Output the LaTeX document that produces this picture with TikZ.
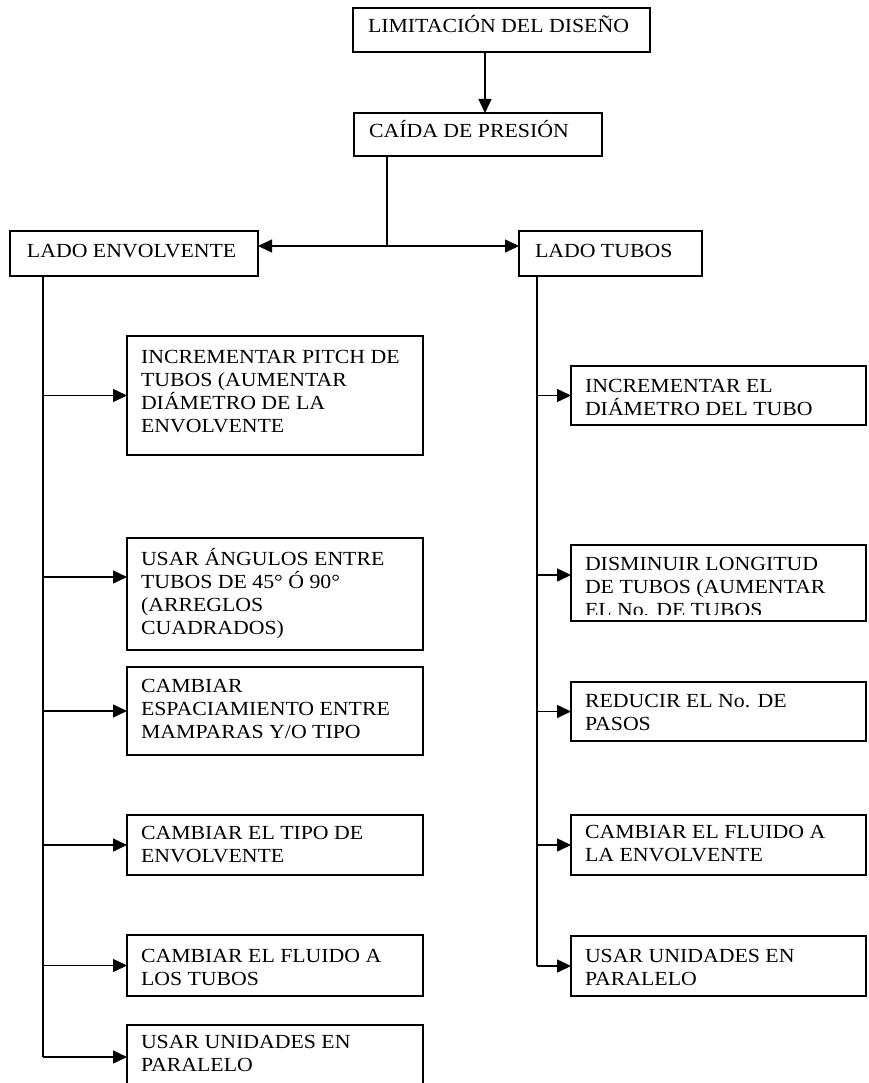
\documentclass[tikz,border=0pt]{standalone}
\usepackage{fontspec}
\setmainfont{Liberation Serif}[FakeStretch=1.09]
\usetikzlibrary{arrows.meta,calc}
\newcommand{\fst}{\vrule height 19pt depth 0pt width 0pt}
\begin{document}
\begin{tikzpicture}[x=1pt,y=-1pt,
  box/.style={draw, line width=1.6pt, rectangle, inner sep=0pt, outer sep=0pt, anchor=north west},
  txt/.style={anchor=north west, inner sep=0pt, outer sep=0pt, align=left,
     font=\fontsize{20}{23.3}\selectfont},
  con/.style={line width=1.5pt},
  arr/.style={con, -{Triangle[length=14pt,width=13pt]}}]
\useasboundingbox (0,0) rectangle (868,1083);
\clip (0,0) rectangle (868,1083);
\fill[white] (0,0) rectangle (868,1083);

% boxes
\node[box, minimum width=297pt, minimum height=44pt] (lim) at (353,8) {};
\node[box, minimum width=248pt, minimum height=43pt] (cai) at (354,113) {};
\node[box, minimum width=248pt, minimum height=45pt] (env) at (10,231) {};
\node[box, minimum width=183pt, minimum height=45pt] (tub) at (519,231) {};

\node[box, minimum width=296pt, minimum height=119pt] (L1) at (127,336) {};
\node[box, minimum width=296pt, minimum height=112pt] (L2) at (127,538) {};
\node[box, minimum width=296pt, minimum height=88pt] (L3) at (127,667) {};
\node[box, minimum width=296pt, minimum height=60pt] (L4) at (127,815) {};
\node[box, minimum width=296pt, minimum height=61pt] (L5) at (127,935) {};
\node[box, minimum width=296pt, minimum height=64pt] (L6) at (127,1025) {};

\node[box, minimum width=295pt, minimum height=59pt] (R1) at (571,366) {};
\node[box, minimum width=295pt, minimum height=76pt] (R2) at (571,545) {};
\node[box, minimum width=295pt, minimum height=59pt] (R3) at (571,682) {};
\node[box, minimum width=295pt, minimum height=60pt] (R4) at (571,815) {};
\node[box, minimum width=295pt, minimum height=60pt] (R5) at (571,936) {};

% texts
\node[txt] (tlim) at (368,14) {\fst LIMITACIÓN DEL DISEÑO};
\node[txt] (tcai) at (369,119) {\fst CAÍDA DE PRESIÓN};
\node[txt] (tenv) at (27,238) {\fst LADO ENVOLVENTE};
\node[txt] (ttub) at (535,238) {\fst LADO TUBOS};

\node[txt] (tL1) at (141,344) {\fst INCREMENTAR PITCH DE\\TUBOS (AUMENTAR\\DIÁMETRO DE LA\\ENVOLVENTE};
\node[txt] (tL2) at (141,546) {\fst USAR ÁNGULOS ENTRE\\TUBOS DE 45° Ó 90°\\(ARREGLOS\\CUADRADOS)};
\node[txt] (tL3) at (141,673) {\fst CAMBIAR\\ESPACIAMIENTO ENTRE\\MAMPARAS Y/O TIPO};
\node[txt] (tL4) at (141,820) {\fst CAMBIAR EL TIPO DE\\ENVOLVENTE};
\node[txt] (tL5) at (141,943) {\fst CAMBIAR EL FLUIDO A\\LOS TUBOS};
\node[txt] (tL6) at (141,1029) {\fst USAR UNIDADES EN\\PARALELO};

\node[txt] (tR1) at (585,373) {\fst INCREMENTAR EL\\DIÁMETRO DEL TUBO};
\begin{scope}
\clip (571,545) rectangle (866,614);
\node[txt] (tR2) at (585,551) {\fst DISMINUIR LONGITUD\\DE TUBOS (AUMENTAR\\EL No. DE TUBOS};
\end{scope}
\node[txt] (tR3) at (585,688) {\fst REDUCIR EL No. DE\\PASOS};
\node[txt] (tR4) at (585,819) {\fst CAMBIAR EL FLUIDO A\\LA ENVOLVENTE};
\node[txt] (tR5) at (585,943) {\fst USAR UNIDADES EN\\PARALELO};

% connectors
\draw[arr] ([xshift=132pt]lim.south west) -- ([xshift=131pt]cai.north west);
\coordinate (cb) at ([xshift=33pt]cai.south west);
\coordinate (jn) at ($(cb)+(0,90)$);
\draw[con] (cb) -- (jn);
\draw[arr] (jn) -- (env.east |- jn);
\draw[arr] (jn) -- (tub.west |- jn);

\coordinate (lt) at ([xshift=33pt]env.south west);
\coordinate (lb) at ($(lt)+(0,781)$);
\draw[con] (lt) -- (lb);
\draw[arr] (lb) -- (L6.west |- lb);
\draw[arr] (lt |- L1.west) -- (L1.west);
\draw[arr] ($(lt |- L2.north)+(0,39)$) -- ($(L2.north west)+(0,39)$);
\draw[arr] (lt |- L3.west) -- (L3.west);
\draw[arr] (lt |- L4.west) -- (L4.west);
\draw[arr] (lt |- L5.west) -- (L5.west);

\coordinate (rt) at ([xshift=18pt]tub.south west);
\coordinate (rb) at ($(rt)+(0,690)$);
\draw[con] (rt) -- (rb);
\draw[arr] (rb) -- (R5.west |- rb);
\draw[arr] (rt |- R1.west) -- (R1.west);
\draw[arr] ($(rt |- R2.north)+(0,30)$) -- ($(R2.north west)+(0,30)$);
\draw[arr] (rt |- R3.west) -- (R3.west);
\draw[arr] (rt |- R4.west) -- (R4.west);
\end{tikzpicture}
\end{document}
